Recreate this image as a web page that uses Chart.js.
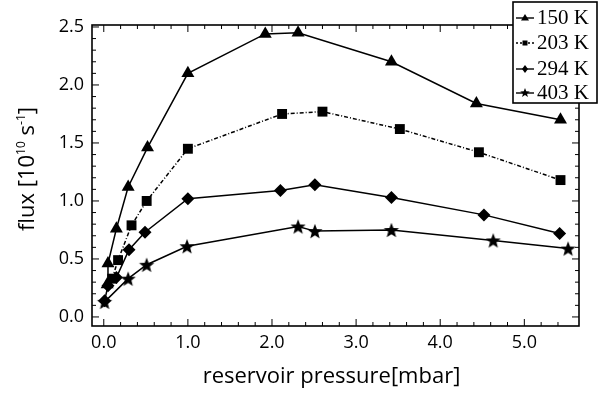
<!DOCTYPE html>
<html><head><meta charset="utf-8">
<script src="https://cdn.jsdelivr.net/npm/chart.js@4"></script>
<style>html,body{margin:0;padding:0;background:#fff}#wrap{width:611px;height:396px}</style>
</head><body><div id="wrap"><canvas id="c" width="611" height="396"></canvas></div>
<script>
const seriesLabels = ['150 K', '203 K', '294 K', '403 K'];
const x150 = [0.04, 0.05, 0.15, 0.29, 0.52, 1.0, 1.92, 2.31, 3.42, 4.43, 5.43];
const y150 = [0.28, 0.46, 0.76, 1.12, 1.46, 2.10, 2.44, 2.45, 2.20, 1.84, 1.70];
const x203 = [0.10, 0.17, 0.33, 0.51, 1.0, 2.12, 2.6, 3.52, 4.46, 5.43];
const y203 = [0.33, 0.49, 0.79, 1.00, 1.45, 1.75, 1.77, 1.62, 1.42, 1.18];
const x294 = [0.01, 0.05, 0.15, 0.30, 0.49, 1.0, 2.1, 2.51, 3.42, 4.52, 5.42];
const y294 = [0.14, 0.27, 0.34, 0.58, 0.73, 1.02, 1.09, 1.14, 1.03, 0.88, 0.72];
const x403 = [0.01, 0.29, 0.51, 0.99, 2.31, 2.51, 3.42, 4.63, 5.52];
const y403 = [0.13, 0.33, 0.45, 0.61, 0.78, 0.74, 0.75, 0.66, 0.59];
const xTicks = [0, 1, 2, 3, 4, 5];
const yTicks = [0, 0.5, 1.0, 1.5, 2.0, 2.5];

function pts(xs, ys) { return xs.map((x, i) => ({x: x, y: ys[i]})); }

function starPath(ctx, cx, cy, R) {
  const r = R * 0.42;
  ctx.beginPath();
  for (let i = 0; i < 10; i++) {
    const a = -Math.PI / 2 + i * Math.PI / 5;
    const rr = i % 2 === 0 ? R : r;
    const px = cx + rr * Math.cos(a), py = cy + rr * Math.sin(a);
    if (i === 0) ctx.moveTo(px, py); else ctx.lineTo(px, py);
  }
  ctx.closePath();
}
function makeStar(R) {
  const cv = document.createElement('canvas');
  const s = Math.ceil(R * 2 + 2);
  cv.width = s; cv.height = s;
  const ctx = cv.getContext('2d');
  ctx.fillStyle = '#000';
  starPath(ctx, s / 2, s / 2 + R * 0.1, R);
  ctx.fill();
  return cv;
}
const starImg = makeStar(8);

const ds = (label, xs, ys, style, radius, dash) => ({
  label: label, data: pts(xs, ys), showLine: true,
  borderColor: '#000', backgroundColor: '#000', borderWidth: 1.5,
  borderDash: dash || [], pointStyle: style, pointRadius: radius,
  pointBackgroundColor: '#000', pointBorderColor: '#000', pointBorderWidth: 0,
  tension: 0
});

const framePlugin = {
  id: 'frame',
  afterDraw(chart) {
    const ctx = chart.ctx, a = chart.chartArea;
    const xs = chart.scales.x, ys = chart.scales.y;
    ctx.save();
    ctx.strokeStyle = '#000';
    ctx.lineWidth = 1.6;
    ctx.strokeRect(a.left, a.top, a.right - a.left, a.bottom - a.top);
    ctx.lineWidth = 1;
    ctx.beginPath();
    for (let v = 0; v <= 5.6; v += 0.2) {
      const px = xs.getPixelForValue(v);
      if (px < a.left || px > a.right) continue;
      const major = Math.abs(v - Math.round(v)) < 1e-6;
      const L = major ? 7 : 4;
      ctx.moveTo(px, a.bottom); ctx.lineTo(px, a.bottom - L);
      ctx.moveTo(px, a.top); ctx.lineTo(px, a.top + L);
    }
    for (let v = 0; v <= 2.51; v += 0.1) {
      const py = ys.getPixelForValue(v);
      if (py < a.top || py > a.bottom) continue;
      const major = Math.abs(v * 2 - Math.round(v * 2)) < 1e-6;
      const L = major ? 7 : 4;
      ctx.moveTo(a.left, py); ctx.lineTo(a.left + L, py);
      ctx.moveTo(a.right, py); ctx.lineTo(a.right - L, py);
    }
    ctx.stroke();

    // axis titles
    ctx.fillStyle = '#000';
    ctx.font = '500 22px "Open Sans"';
    ctx.textAlign = 'center';
    ctx.textBaseline = 'middle';
    ctx.fillText('reservoir pressure[mbar]', (a.left + a.right) / 2 - 4, 377);

    // y title with superscripts
    ctx.save();
    ctx.translate(26, 169);
    ctx.rotate(-Math.PI / 2);
    const parts = [['flux [10', 22, 0], ['10', 12, -9], [' s', 22, 0], ['-1', 12, -9], [']', 22, 0]];
    let total = 0;
    parts.forEach(p => { ctx.font = '500 ' + p[1] + 'px "Open Sans"'; total += ctx.measureText(p[0]).width; });
    let x = -total / 2;
    ctx.textAlign = 'left';
    ctx.textBaseline = 'alphabetic';
    parts.forEach(p => {
      ctx.font = '500 ' + p[1] + 'px "Open Sans"';
      ctx.fillText(p[0], x, 8 + p[2]);
      x += ctx.measureText(p[0]).width;
    });
    ctx.restore();

    // legend
    const lx = 513, ly = 2, lw = 84, lh = 101;
    ctx.fillStyle = '#fff';
    ctx.fillRect(lx, ly, lw, lh);
    ctx.strokeStyle = '#000';
    ctx.lineWidth = 1.6;
    ctx.strokeRect(lx, ly, lw, lh);
    const rows = [17, 42, 68, 92];
    ctx.font = '21px "Liberation Serif"';
    ctx.textAlign = 'left';
    ctx.textBaseline = 'middle';
    chart.data.datasets.forEach((d, i) => {
      const cy = rows[i] + 1;
      ctx.lineWidth = 1.4;
      ctx.setLineDash(i === 1 ? [2, 2] : []);
      ctx.beginPath(); ctx.moveTo(lx + 3, cy); ctx.lineTo(lx + 21, cy); ctx.stroke();
      ctx.setLineDash([]);
      ctx.fillStyle = '#000';
      const cx = lx + 12;
      ctx.beginPath();
      if (i === 0) { ctx.moveTo(cx, cy - 4); ctx.lineTo(cx + 4, cy + 2.5); ctx.lineTo(cx - 4, cy + 2.5); ctx.closePath(); ctx.fill(); }
      else if (i === 1) { ctx.fillRect(cx - 2.5, cy - 2.5, 5, 5); }
      else if (i === 2) { ctx.moveTo(cx, cy - 4); ctx.lineTo(cx + 3, cy); ctx.lineTo(cx, cy + 4); ctx.lineTo(cx - 3, cy); ctx.closePath(); ctx.fill(); }
      else { starPath(ctx, cx, cy, 5); ctx.fill(); }
      ctx.fillText(d.label, lx + 24, rows[i] + 1);
    });
    ctx.restore();
  }
};

new Chart(document.getElementById('c'), {
  type: 'scatter',
  data: {
    datasets: [
      ds(seriesLabels[0], x150, y150, 'triangle', 7.5),
      ds(seriesLabels[1], x203, y203, 'rect', 7, [4, 2, 1, 2]),
      ds(seriesLabels[2], x294, y294, 'rectRot', 6.5),
      ds(seriesLabels[3], x403, y403, starImg, 7)
    ]
  },
  options: {
    responsive: false, animation: false,
    layout: {padding: {left: 0, top: 25, right: 32, bottom: 0}},
    plugins: {legend: {display: false}, tooltip: {enabled: false}},
    scales: {
      x: {
        type: 'linear', min: -0.14, max: 5.65,
        grid: {display: false, drawTicks: false}, border: {display: false},
        afterBuildTicks: s => { s.ticks = xTicks.map(v => ({value: v})); },
        afterFit: s => { s.height = 70; },
        ticks: {color: '#000', font: {family: 'Open Sans', size: 18, weight: '500'}, padding: 6,
                maxRotation: 0, autoSkip: false, callback: v => Number(v).toFixed(1)}
      },
      y: {
        type: 'linear', min: -0.078, max: 2.517,
        grid: {display: false, drawTicks: false}, border: {display: false},
        afterBuildTicks: s => { s.ticks = yTicks.map(v => ({value: v})); },
        afterFit: s => { s.width = 92; },
        ticks: {color: '#000', font: {family: 'Open Sans', size: 18, weight: '500'}, padding: 8,
                autoSkip: false, callback: v => Number(v).toFixed(1)}
      }
    }
  },
  plugins: [framePlugin]
});
</script>
</body></html>
